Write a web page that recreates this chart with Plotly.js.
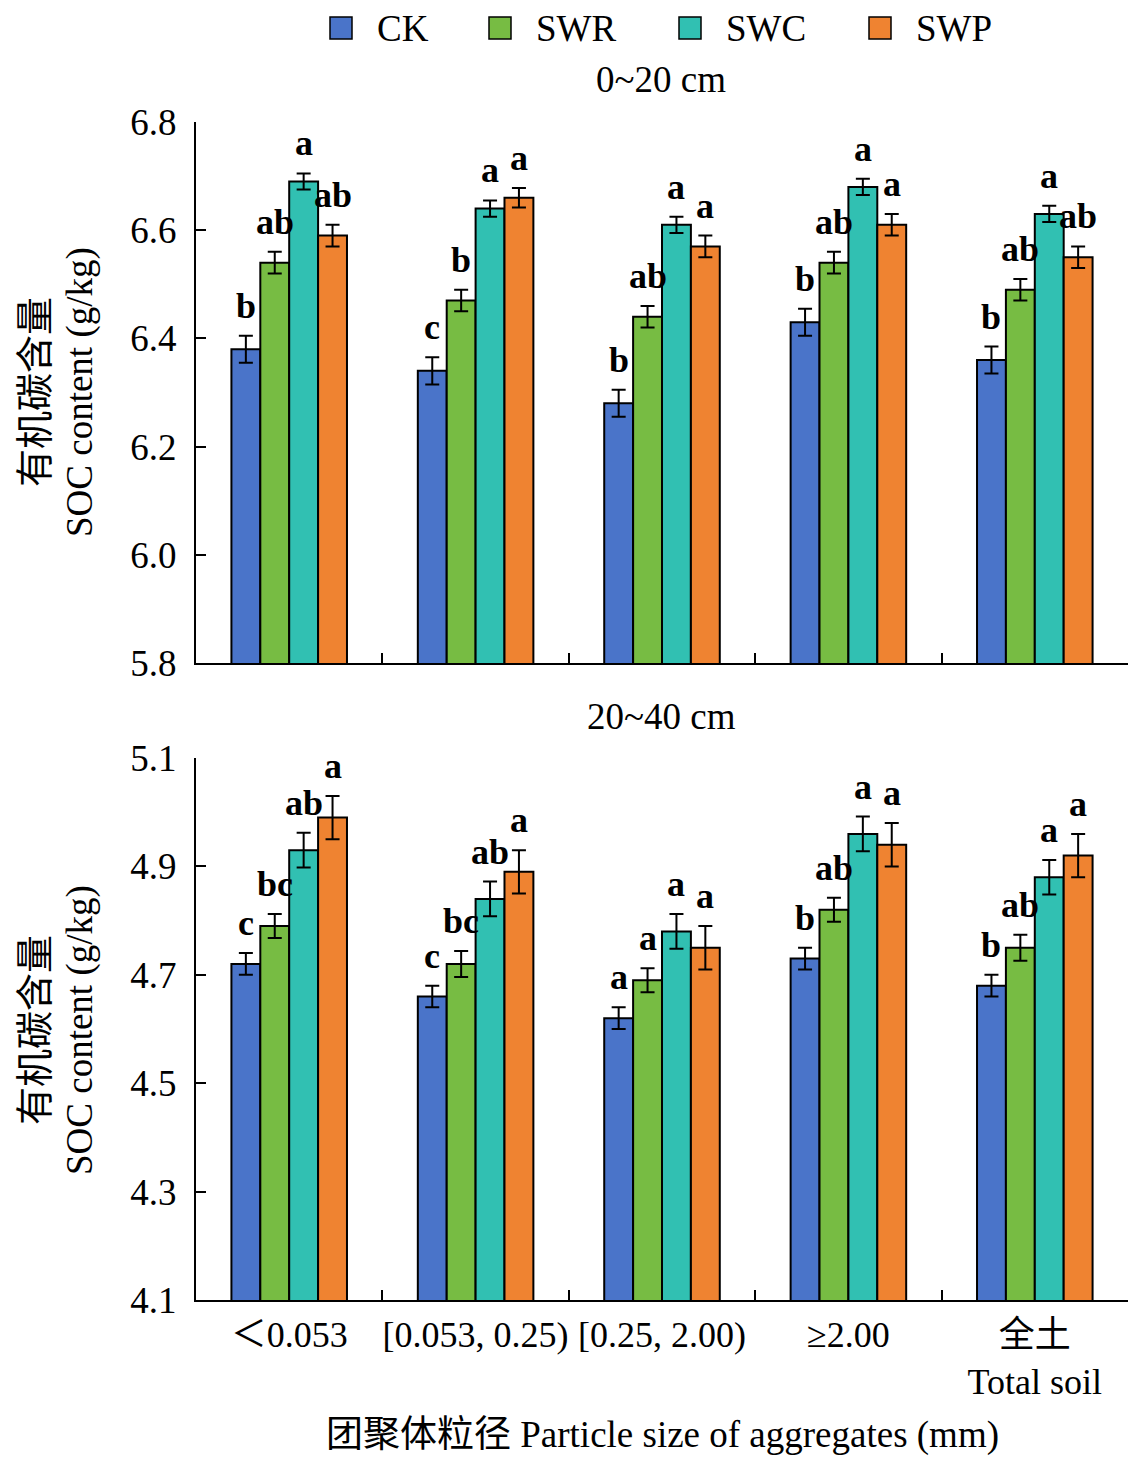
<!DOCTYPE html>
<html>
<head>
<meta charset="utf-8">
<script src="https://cdn.plot.ly/plotly-3.0.1.min.js"></script>
<style>body{margin:0;background:#fff}</style>
</head>
<body>
<div id="chart"></div>
<script>
// categories and series
var cats = ['＜0.053', '[0.053, 0.25)', '[0.25, 2.00)', '≥2.00', '全土<br>Total soil'];
var series = ['CK', 'SWR', 'SWC', 'SWP'];
var colors = ['#4A74C9', '#77BC43', '#31C0B2', '#EF8331'];

// 0~20 cm
var top_CK  = [6.38, 6.34, 6.28, 6.43, 6.36];
var top_SWR = [6.54, 6.47, 6.44, 6.54, 6.49];
var top_SWC = [6.69, 6.64, 6.61, 6.68, 6.63];
var top_SWP = [6.59, 6.66, 6.57, 6.61, 6.55];
var topErr_CK  = [0.025, 0.025, 0.025, 0.025, 0.025];
var topErr_SWR = [0.02, 0.02, 0.02, 0.02, 0.02];
var topErr_SWC = [0.015, 0.015, 0.015, 0.015, 0.015];
var topErr_SWP = [0.02, 0.018, 0.02, 0.02, 0.02];
var topSig_CK  = ['b', 'c', 'b', 'b', 'b'];
var topSig_SWR = ['ab', 'b', 'ab', 'ab', 'ab'];
var topSig_SWC = ['a', 'a', 'a', 'a', 'a'];
var topSig_SWP = ['ab', 'a', 'a', 'a', 'ab'];

// 20~40 cm
var bot_CK  = [4.72, 4.66, 4.62, 4.73, 4.68];
var bot_SWR = [4.79, 4.72, 4.69, 4.82, 4.75];
var bot_SWC = [4.93, 4.84, 4.78, 4.96, 4.88];
var bot_SWP = [4.99, 4.89, 4.75, 4.94, 4.92];
var botErr_CK  = [0.02, 0.02, 0.02, 0.02, 0.02];
var botErr_SWR = [0.022, 0.024, 0.022, 0.022, 0.024];
var botErr_SWC = [0.032, 0.032, 0.032, 0.032, 0.032];
var botErr_SWP = [0.04, 0.04, 0.04, 0.04, 0.04];
var botSig_CK  = ['c', 'c', 'a', 'b', 'b'];
var botSig_SWR = ['bc', 'bc', 'a', 'ab', 'ab'];
var botSig_SWC = ['ab', 'ab', 'a', 'a', 'a'];
var botSig_SWP = ['a', 'a', 'a', 'a', 'a'];

var yTicksTop = [5.8, 6.0, 6.2, 6.4, 6.6, 6.8];
var yTicksBot = [4.1, 4.3, 4.5, 4.7, 4.9, 5.1];

var FONT = '"Liberation Serif", "Times New Roman", "Noto Sans CJK SC", serif';
var W = 1139, H = 1467;
var L = 196, R = 11;
function py(p) { return 1 - p / H; }
function px(p) { return (p - L) / (W - L - R); }

var topVals = [top_CK, top_SWR, top_SWC, top_SWP];
var topErrs = [topErr_CK, topErr_SWR, topErr_SWC, topErr_SWP];
var topSigs = [topSig_CK, topSig_SWR, topSig_SWC, topSig_SWP];
var botVals = [bot_CK, bot_SWR, bot_SWC, bot_SWP];
var botErrs = [botErr_CK, botErr_SWR, botErr_SWC, botErr_SWP];
var botSigs = [botSig_CK, botSig_SWR, botSig_SWC, botSig_SWP];

var bargap = 0.38;
var barW = (1 - bargap) / series.length;

var data = [];
var annotations = [];
var shapes = [];

function addPanel(vals, errs, sigs, xa, ya) {
  series.forEach(function (name, j) {
    data.push({
      type: 'bar', name: name, x: cats, y: vals[j],
      xaxis: xa, yaxis: ya, showlegend: false,
      marker: {color: colors[j], line: {color: '#000', width: 2}},
      error_y: {type: 'data', array: errs[j], visible: true, color: '#000', thickness: 2, width: 7}
    });
    // significance letters above the error bars
    vals[j].forEach(function (v, i) {
      annotations.push({
        xref: xa, yref: ya, x: i + (j - 1.5) * barW, y: v + errs[j][i],
        text: '<b>' + sigs[j][i] + '</b>', showarrow: false,
        xanchor: 'center', yanchor: 'bottom', yshift: 8,
        font: {family: FONT, size: 36, color: '#000'}
      });
    });
  });
}

addPanel(topVals, topErrs, topSigs, 'x', 'y');
addPanel(botVals, botErrs, botSigs, 'x2', 'y2');

function note(text, x, y, size, angle) {
  annotations.push({
    xref: 'paper', yref: 'paper', x: x, y: y, text: text, showarrow: false,
    xanchor: 'center', yanchor: 'middle', textangle: angle || 0,
    font: {family: FONT, size: size, color: '#000'}
  });
}
note('0~20 cm', px(661), py(80), 37);
note('20~40 cm', px(661), py(716), 37);
note('团聚体粒径 Particle size of aggregates (mm)', px(662), py(1435), 37);
note('有机碳含量', px(35), py(392), 38, -90);
note('SOC content (g/kg)', px(80), py(392), 37, -90);
note('有机碳含量', px(35), py(1030), 38, -90);
note('SOC content (g/kg)', px(80), py(1030), 37, -90);

// legend drawn as swatches + labels (bigger squares than the built-in legend)
var legLeft = [330, 489, 679, 869];
series.forEach(function (name, j) {
  shapes.push({
    type: 'rect', xref: 'paper', yref: 'paper',
    x0: px(legLeft[j]), x1: px(legLeft[j] + 22), y0: py(39), y1: py(17),
    fillcolor: colors[j], line: {color: '#000', width: 1.5}
  });
  annotations.push({
    xref: 'paper', yref: 'paper', x: px(legLeft[j] + 45), y: py(28),
    text: name, showarrow: false, xanchor: 'left', yanchor: 'middle',
    font: {family: FONT, size: 37, color: '#000'}
  });
});

var xBase = {
  type: 'category', tickson: 'boundaries', ticks: 'inside', ticklen: 10, tickwidth: 2, tickcolor: '#000',
  showline: true, linecolor: '#000', linewidth: 2, showgrid: false, zeroline: false,
  range: [-0.5, 4.5], fixedrange: true, tickangle: 0,
  tickfont: {family: FONT, size: 36, color: '#000'}
};
var yBase = {
  ticks: 'inside', ticklen: 10, tickwidth: 2, tickcolor: '#000',
  showline: true, linecolor: '#000', linewidth: 2, showgrid: false, zeroline: false,
  tickformat: '.1f', ticklabelstandoff: 10,
  tickfont: {family: FONT, size: 37, color: '#000'}
};

var layout = {
  width: W, height: H,
  margin: {l: L, r: R, t: 0, b: 0},
  paper_bgcolor: '#fff', plot_bgcolor: '#fff',
  barmode: 'group', bargap: bargap, bargroupgap: 0,
  font: {family: FONT, size: 37, color: '#000'},
  showlegend: false,
  xaxis: Object.assign({}, xBase, {anchor: 'y', domain: [0, 1], showticklabels: false}),
  yaxis: Object.assign({}, yBase, {anchor: 'x', domain: [py(663), py(122)], range: [5.8, 6.8], tickvals: yTicksTop}),
  xaxis2: Object.assign({}, xBase, {anchor: 'y2', domain: [0, 1], showticklabels: true, ticklabelstandoff: 2}),
  yaxis2: Object.assign({}, yBase, {anchor: 'x2', domain: [py(1300), py(758)], range: [4.1, 5.1], tickvals: yTicksBot}),
  shapes: shapes,
  annotations: annotations
};

Plotly.newPlot('chart', data, layout, {staticPlot: true});
</script>
</body>
</html>
